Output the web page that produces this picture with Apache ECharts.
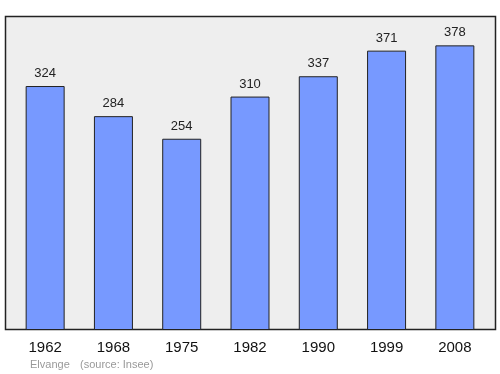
<!DOCTYPE html>
<html><head><meta charset="utf-8">
<script src="https://cdn.jsdelivr.net/npm/echarts@6/dist/echarts.min.js"></script>
<style>html,body{margin:0;padding:0;background:#fff}#c{width:500px;height:374px}</style>
</head><body><div id="c"></div>
<script>
var years = ['1962','1968','1975','1982','1990','1999','2008'];
var population = [324,284,254,310,337,371,378];
var town = 'Elvange';
var source = '(source: Insee)';

var chart = echarts.init(document.getElementById('c'), null, {renderer:'canvas'});
chart.setOption({
  animation:false,
  backgroundColor:'#ffffff',
  graphic:[
    {type:'rect', z:-10, shape:{x:5.5,y:16.5,width:490,height:313}, style:{fill:'#eeeeee', stroke:'#222222', lineWidth:1.5}},
    {type:'text', left:30, top:359, style:{text:town, fill:'#999999', font:'11px "Liberation Sans", Arial, sans-serif'}},
    {type:'text', left:80, top:359, style:{text:source, fill:'#999999', font:'11px "Liberation Sans", Arial, sans-serif'}}
  ],
  grid:{left:11, width:478, top:16, height:314, containLabel:false},
  xAxis:{type:'category', data:years,
    axisLine:{show:false}, axisTick:{show:false},
    axisLabel:{color:'#111', fontSize:15, margin:10, fontFamily:'"Liberation Sans", Arial, sans-serif'}},
  yAxis:{type:'value', min:0, max:417, show:false, splitLine:{show:false}},
  series:[{type:'bar', data:population, barWidth:39,
    itemStyle:{color:'#7799ff', borderColor:'#222', borderWidth:1},
    label:{show:true, position:'top', distance:6, color:'#222', fontSize:13, fontFamily:'"Liberation Sans", Arial, sans-serif'}
  }]
});
</script></body></html>
